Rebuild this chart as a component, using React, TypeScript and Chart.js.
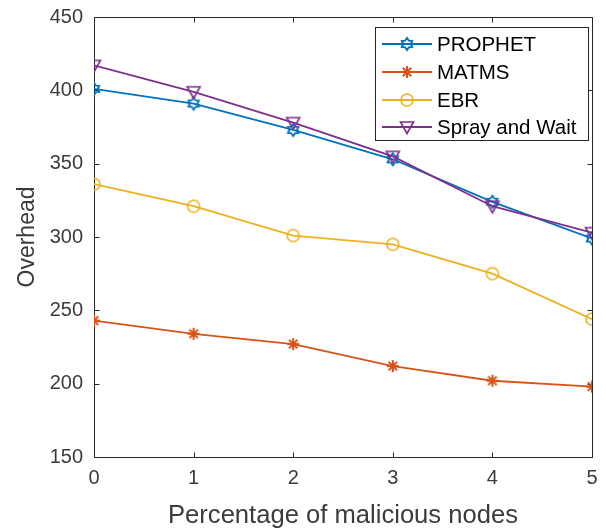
import React, { useEffect, useRef } from "react";
import { Chart, registerables } from "chart.js";

Chart.register(...registerables);

const xValues = [0, 1, 2, 3, 4, 5];
const xTicks = [0, 1, 2, 3, 4, 5];
const yTicks = [150, 200, 250, 300, 350, 400, 450];
const prophet = [401, 391, 373, 353, 324, 299];
const matms = [243, 234, 227, 212, 202, 198];
const ebr = [336, 321, 301, 295, 275, 244];
const spray = [417, 399, 378, 355, 321, 303];
const seriesNames = ["PROPHET", "MATMS", "EBR", "Spray and Wait"];
const seriesColors = ["#0072BD", "#D95319", "#EDB120", "#7E2F8E"];
const markerKinds = ["hexagram", "asterisk", "circle", "triangleDown"];

const FONT = "'Liberation Sans', Arial, Helvetica, sans-serif";
const AXIS_COLOR = "#262626";
const TEXT_COLOR = "#3c3c3c";

function makeMarker(kind: string, color: string): HTMLCanvasElement {
  const c = document.createElement("canvas");
  c.width = 18;
  c.height = 18;
  const ctx = c.getContext("2d")!;
  const cx = 9, cy = 9;
  ctx.strokeStyle = color;
  ctx.lineWidth = 1.6;
  ctx.beginPath();
  if (kind === "circle") {
    ctx.arc(cx, cy, 6, 0, Math.PI * 2);
  } else if (kind === "asterisk") {
    const r = 6;
    for (let i = 0; i < 4; i++) {
      const a = (i * Math.PI) / 4;
      ctx.moveTo(cx + r * Math.cos(a), cy + r * Math.sin(a));
      ctx.lineTo(cx - r * Math.cos(a), cy - r * Math.sin(a));
    }
    ctx.lineWidth = 2;
  } else if (kind === "triangleDown") {
    ctx.moveTo(cx - 6.5, cy - 5);
    ctx.lineTo(cx + 6.5, cy - 5);
    ctx.lineTo(cx, cy + 6.5);
    ctx.closePath();
  } else if (kind === "hexagram") {
    const ro = 6, ri = 3.8;
    for (let i = 0; i < 12; i++) {
      const a = -Math.PI / 2 + (i * Math.PI) / 6;
      const r = i % 2 === 0 ? ro : ri;
      const x = cx + r * Math.cos(a), y = cy + r * Math.sin(a);
      if (i === 0) ctx.moveTo(x, y);
      else ctx.lineTo(x, y);
    }
    ctx.closePath();
    ctx.lineWidth = 1.9;
  }
  ctx.stroke();
  return c;
}

export default function App() {
  const ref = useRef<HTMLCanvasElement | null>(null);

  useEffect(() => {
    document.body.style.margin = "0";
    const canvas = ref.current!;
    const markers = markerKinds.map((k, i) => makeMarker(k, seriesColors[i]));
    const allSeries = [prophet, matms, ebr, spray];

    const frame = {
      id: "matlabFrame",
      beforeDatasetsDraw(chart: any) {
        const { ctx, chartArea } = chart;
        const xs = chart.scales.x, ys = chart.scales.y;
        ctx.save();
        ctx.strokeStyle = AXIS_COLOR;
        ctx.lineWidth = 1;
        const L = Math.round(chartArea.left) + 0.5;
        const R = Math.round(chartArea.right) + 0.5;
        const T = Math.round(chartArea.top) + 0.5;
        const B = Math.round(chartArea.bottom) + 0.5;
        ctx.beginPath();
        ctx.rect(L, T, R - L, B - T);
        const tl = 5;
        xTicks.forEach((v) => {
          const px = Math.round(xs.getPixelForValue(v)) + 0.5;
          ctx.moveTo(px, B);
          ctx.lineTo(px, B - tl);
          ctx.moveTo(px, T);
          ctx.lineTo(px, T + tl);
        });
        yTicks.forEach((v) => {
          const py = Math.round(ys.getPixelForValue(v)) + 0.5;
          ctx.moveTo(L, py);
          ctx.lineTo(L + tl, py);
          ctx.moveTo(R, py);
          ctx.lineTo(R - tl, py);
        });
        ctx.stroke();
        ctx.restore();
      },
      afterDraw(chart: any) {
        const { ctx } = chart;
        ctx.save();
        const bx = 375.5, by = 27.5, bw = 213, bh = 113;
        ctx.fillStyle = "#ffffff";
        ctx.fillRect(bx, by, bw, bh);
        ctx.strokeStyle = AXIS_COLOR;
        ctx.lineWidth = 1;
        ctx.strokeRect(bx, by, bw, bh);
        const rowY = [44, 72, 100, 127];
        ctx.font = `20.5px ${FONT}`;
        ctx.textBaseline = "middle";
        ctx.textAlign = "left";
        seriesNames.forEach((name, i) => {
          const y = rowY[i];
          ctx.strokeStyle = seriesColors[i];
          ctx.lineWidth = 1.8;
          ctx.beginPath();
          ctx.moveTo(382, y);
          ctx.lineTo(432, y);
          ctx.stroke();
          const m = markers[i];
          ctx.drawImage(m, 407 - m.width / 2, y - m.height / 2);
          ctx.fillStyle = "#000000";
          ctx.fillText(name, 437, y + 1);
        });
        ctx.restore();
      },
    };

    const chart = new Chart(canvas, {
      type: "line",
      data: {
        labels: xValues,
        datasets: allSeries.map((d, i) => ({
          label: seriesNames[i],
          data: xValues.map((x, j) => ({ x, y: d[j] })),
          borderColor: seriesColors[i],
          backgroundColor: seriesColors[i],
          borderWidth: 1.8,
          pointStyle: markers[i],
          pointRadius: 6,
          pointHoverRadius: 6,
          fill: false,
          tension: 0,
          order: 4 - i,
        })),
      },
      options: {
        animation: false,
        responsive: false,
        devicePixelRatio: 1,
        events: [],
        layout: { padding: { top: 17, right: 14, left: 0, bottom: 0 } },
        plugins: { legend: { display: false }, tooltip: { enabled: false } },
        scales: {
          x: {
            type: "linear",
            min: 0,
            max: 5,
            afterBuildTicks: (s: any) => {
              s.ticks = xTicks.map((v) => ({ value: v }));
            },
            afterFit: (s: any) => {
              s.height = 72;
            },
            grid: { display: false, drawTicks: true, tickLength: 9 },
            border: { display: false },
            ticks: {
              color: TEXT_COLOR,
              font: { family: FONT, size: 20 },
              padding: 0,
              maxRotation: 0,
            },
            title: {
              display: true,
              text: "Percentage of malicious nodes",
              color: TEXT_COLOR,
              font: { family: FONT, size: 25.6 },
              padding: { top: 0, bottom: -2 },
            },
          },
          y: {
            type: "linear",
            min: 150,
            max: 450,
            afterBuildTicks: (s: any) => {
              s.ticks = yTicks.map((v) => ({ value: v }));
            },
            afterFit: (s: any) => {
              s.width = 94;
            },
            grid: { display: false, drawTicks: true, tickLength: 11 },
            border: { display: false },
            ticks: {
              color: TEXT_COLOR,
              font: { family: FONT, size: 20 },
              padding: 0,
            },
            title: {
              display: true,
              text: "Overhead",
              color: TEXT_COLOR,
              font: { family: FONT, size: 23 },
              padding: { top: 14, bottom: 0 },
            },
          },
        },
      },
      plugins: [frame],
    } as any);

    return () => chart.destroy();
  }, []);

  return (
    <canvas
      ref={ref}
      width={606}
      height={529}
      style={{ display: "block", width: 606, height: 529 }}
    />
  );
}
